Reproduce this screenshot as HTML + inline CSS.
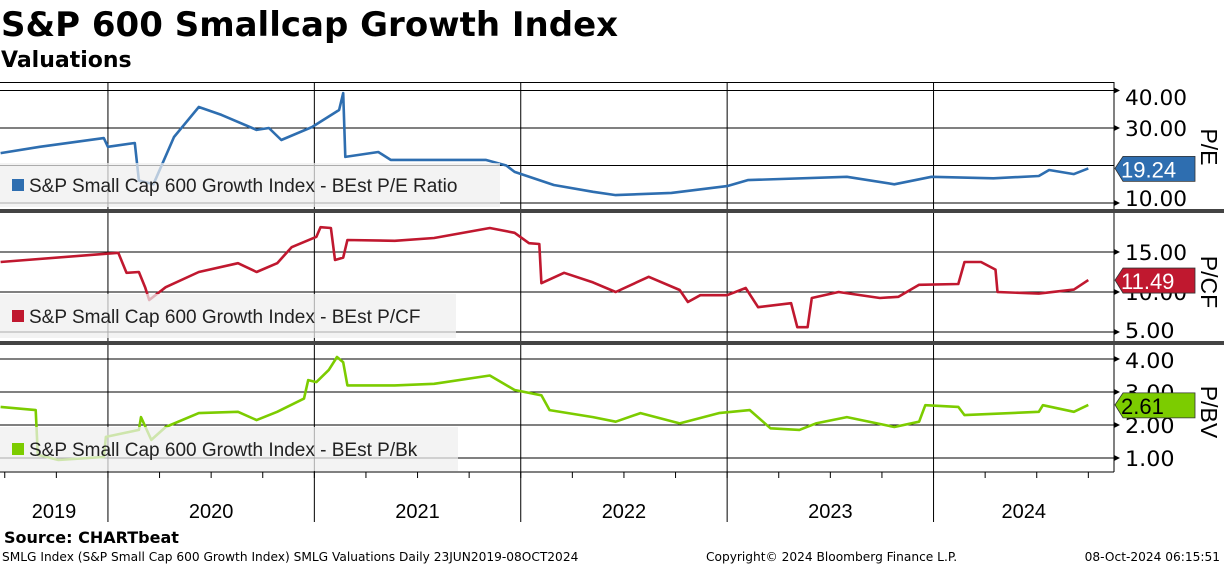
<!DOCTYPE html>
<html><head><meta charset="utf-8"><style>
body{margin:0;background:#fff;width:1224px;height:566px;overflow:hidden;font-family:"Liberation Sans",sans-serif}
</style></head><body>
<svg id="c" width="1224" height="566" xmlns="http://www.w3.org/2000/svg" style="position:absolute;left:0;top:0">
<text x="1" y="36" font-size="34" font-weight="bold" font-family="DejaVu Sans, sans-serif">S&amp;P 600 Smallcap Growth Index</text>
<text x="1" y="67" font-size="22" font-weight="bold" font-family="DejaVu Sans, sans-serif">Valuations</text>
<text x="4" y="543" font-size="16" font-weight="bold" font-family="DejaVu Sans, sans-serif">Source: CHARTbeat</text>
<text x="2" y="561" font-size="12.2" font-family="DejaVu Sans, sans-serif">SMLG Index (S&amp;P Small Cap 600 Growth Index) SMLG Valuations  Daily 23JUN2019-08OCT2024</text>
<text x="706" y="561" font-size="12.2" font-family="DejaVu Sans, sans-serif">Copyright© 2024 Bloomberg Finance L.P.</text>
<text x="1220" y="561" font-size="12.2" text-anchor="end" font-family="DejaVu Sans, sans-serif">08-Oct-2024 06:15:51</text>
<g id="g"></g>
</svg>
<script>
const years=['2019','2020','2021','2022','2023','2024'];
const peDates=[2019.48,2019.67,2019.98,2020.00,2020.13,2020.15,2020.22,2020.32,2020.44,2020.55,2020.72,2020.78,2020.84,2020.99,2021.12,2021.14,2021.15,2021.31,2021.37,2021.83,2021.93,2021.97,2022.16,2022.35,2022.46,2022.73,2023.00,2023.10,2023.58,2023.81,2023.99,2024.29,2024.51,2024.56,2024.68,2024.75];
const peValues=[23.3,25,27.3,25,26,16,15,27.6,35.6,33.5,29.5,30,26.8,30.3,34.8,39.3,22.3,23.6,21.5,21.5,20,18.3,14.8,13,12.1,12.7,14.5,16.1,17,15,17,16.6,17.2,18.8,17.7,19.24];
const pcfDates=[2019.48,2020.05,2020.09,2020.15,2020.18,2020.20,2020.28,2020.44,2020.63,2020.72,2020.82,2020.89,2021.01,2021.03,2021.08,2021.10,2021.14,2021.16,2021.39,2021.58,2021.85,2021.97,2022.04,2022.09,2022.10,2022.21,2022.35,2022.46,2022.62,2022.77,2022.81,2022.87,2023.00,2023.09,2023.15,2023.31,2023.34,2023.39,2023.41,2023.54,2023.74,2023.83,2023.93,2024.12,2024.15,2024.23,2024.30,2024.31,2024.51,2024.68,2024.75];
const pcfValues=[13.75,14.9,12.4,12.5,10.6,9,10.6,12.5,13.6,12.5,13.6,15.6,16.9,18.1,18,14,14.3,16.5,16.4,16.75,18,17.4,16.1,16,11.1,12.4,11.2,10,11.9,10.25,8.75,9.6,9.6,10.5,8.1,8.6,5.6,5.6,9.25,10,9.25,9.4,10.9,11,13.75,13.75,12.8,10,9.8,10.3,11.49];
const pbDates=[2019.48,2019.65,2019.66,2019.76,2019.98,2019.99,2020.15,2020.16,2020.21,2020.28,2020.44,2020.63,2020.72,2020.82,2020.95,2020.97,2021.01,2021.07,2021.11,2021.14,2021.16,2021.39,2021.58,2021.85,2021.97,2022.10,2022.14,2022.35,2022.46,2022.58,2022.77,2022.96,2023.11,2023.21,2023.35,2023.43,2023.58,2023.81,2023.93,2023.96,2024.12,2024.15,2024.51,2024.53,2024.68,2024.75];
const pbValues=[2.55,2.45,1.1,0.94,1.03,1.64,1.85,2.24,1.55,1.94,2.36,2.4,2.15,2.4,2.8,3.36,3.3,3.67,4.06,3.9,3.2,3.2,3.25,3.5,3.06,2.9,2.45,2.24,2.1,2.36,2.05,2.36,2.45,1.9,1.85,2.05,2.24,1.94,2.1,2.6,2.55,2.3,2.4,2.6,2.4,2.61];
const peTicks=['10.00','30.00','40.00'];
const pcfTicks=['5.00','10.00','15.00'];
const pbTicks=['1.00','2.00','3.00','4.00'];

const NS='http://www.w3.org/2000/svg';
const G=document.getElementById('g');
function mk(t,a,parent){const e=document.createElementNS(NS,t);for(const k in a)e.setAttribute(k,a[k]);(parent||G).appendChild(e);return e;}
const X=t=>(t-2019.477)/0.004845;
const AX=1114;
const panels=[
 {top:84,bot:208,y:v=>203-(v-10)*3.75,grid:[10,20,30,40],ticks:peTicks,d:peDates,v:peValues,col:'#2e6eb0',name:'pe',title:'P/E',tc:147,leg:'S&P Small Cap 600 Growth Index - BEst P/E Ratio',lw:500,ly:163},
 {top:215,bot:340,y:v=>292-(v-10)*8,grid:[5,10,15],ticks:pcfTicks,d:pcfDates,v:pcfValues,col:'#c0182f',name:'pcf',title:'P/CF',tc:282,leg:'S&P Small Cap 600 Growth Index - BEst P/CF',lw:456,ly:294},
 {top:347,bot:472,y:v=>425-(v-2)*33,grid:[1,2,3,4],ticks:pbTicks,d:pbDates,v:pbValues,col:'#7ccc00',name:'pb',title:'P/BV',tc:412,leg:'S&P Small Cap 600 Growth Index - BEst P/Bk',lw:458,ly:427}
];
[2020,2021,2022,2023,2024].forEach(yr=>{
 const l=mk('line',{x1:X(yr),x2:X(yr),y1:82,y2:522,stroke:'#000','stroke-width':1});
 
 
});
panels.forEach(p=>{
 p.grid.forEach(v=>{
  const l=mk('line',{x1:0,x2:AX,y1:p.y(v),y2:p.y(v),stroke:'#000','stroke-width':1});
  
  
 });
 p.ticks.forEach(s=>{
  const v=parseFloat(s),yy=p.y(v);
  const a=mk('path',{d:`M${AX} ${yy-3}L${AX+6} ${yy}L${AX} ${yy+3}Z`,fill:'#000'});
  
  
  const cy=Math.min(Math.max(yy,p.top+13),p.bot-10);
  const t=mk('text',{x:AX+5,y:cy+8,'font-size':21,fill:'#000','font-family':'DejaVu Sans, sans-serif','textLength':s.length*12.4,'lengthAdjust':'spacingAndGlyphs'});
  t.setAttribute('x',AX+5+6);
  t.textContent=s;
  
  
 });
 const pts=p.d.map((d,i)=>X(d).toFixed(1)+','+p.y(p.v[i]).toFixed(1)).join(' ');
 const ln=mk('polyline',{points:pts,fill:'none',stroke:p.col,'stroke-width':2.6,'stroke-linejoin':'round'});
 
 
 const lg=mk('g',{});
 
 
 mk('rect',{x:0,y:p.ly,width:p.lw,height:44,fill:'rgba(238,238,238,0.72)'},lg);
 mk('rect',{x:12,y:p.ly+16,width:12,height:12,fill:p.col},lg);
 const lt=mk('text',{x:29,y:p.ly+29,'font-size':19,fill:'#222'},lg);
 lt.textContent=p.leg;
 const lv=p.v[p.v.length-1],ly=p.y(lv);
 const tag=mk('g',{});
 
 
 mk('path',{d:`M${AX+1} ${ly}L${AX+9} ${ly-12}H1195V${ly+13}H${AX+9}Z`,fill:p.col,stroke:'#333','stroke-width':0.8},tag);
 const tt=mk('text',{x:1121,y:ly+9,'font-size':22,fill:p.name==='pb'?'#000':'#fff'},tag);
 tt.textContent=lv.toFixed(2);
 const at=mk('text',{x:1201,y:p.tc,'font-size':23,transform:`rotate(90 1201 ${p.tc})`,'text-anchor':'middle',fill:'#000'});
 at.textContent=p.title;
 
 
});
const axisLine=mk('line',{x1:AX,x2:AX,y1:82,y2:472,stroke:'#000','stroke-width':1});


const topBorder=mk('line',{x1:0,x2:AX,y1:82.5,y2:82.5,stroke:'#000','stroke-width':1});


const xAxisLine=mk('line',{x1:0,x2:AX,y1:472,y2:472,stroke:'#000','stroke-width':1});


[209,341].forEach(y=>{
 const s=mk('rect',{x:0,y:y,width:1224,height:4,fill:'#444'});
 
 
});
for(let q=2019.5;q<2024.9;q+=0.25){
 const tk=mk('line',{x1:X(q),x2:X(q),y1:472,y2:478,stroke:'#000'});
 
 
}
years.forEach(y=>{
 const yr=+y;
 const a=Math.max(0,X(yr)),b=Math.min(AX,X(yr+1));
 const t=mk('text',{x:(a+b)/2,y:518,'font-size':20,'text-anchor':'middle',fill:'#000'});
 t.textContent=y;
 
 
});
</script>
</body></html>
